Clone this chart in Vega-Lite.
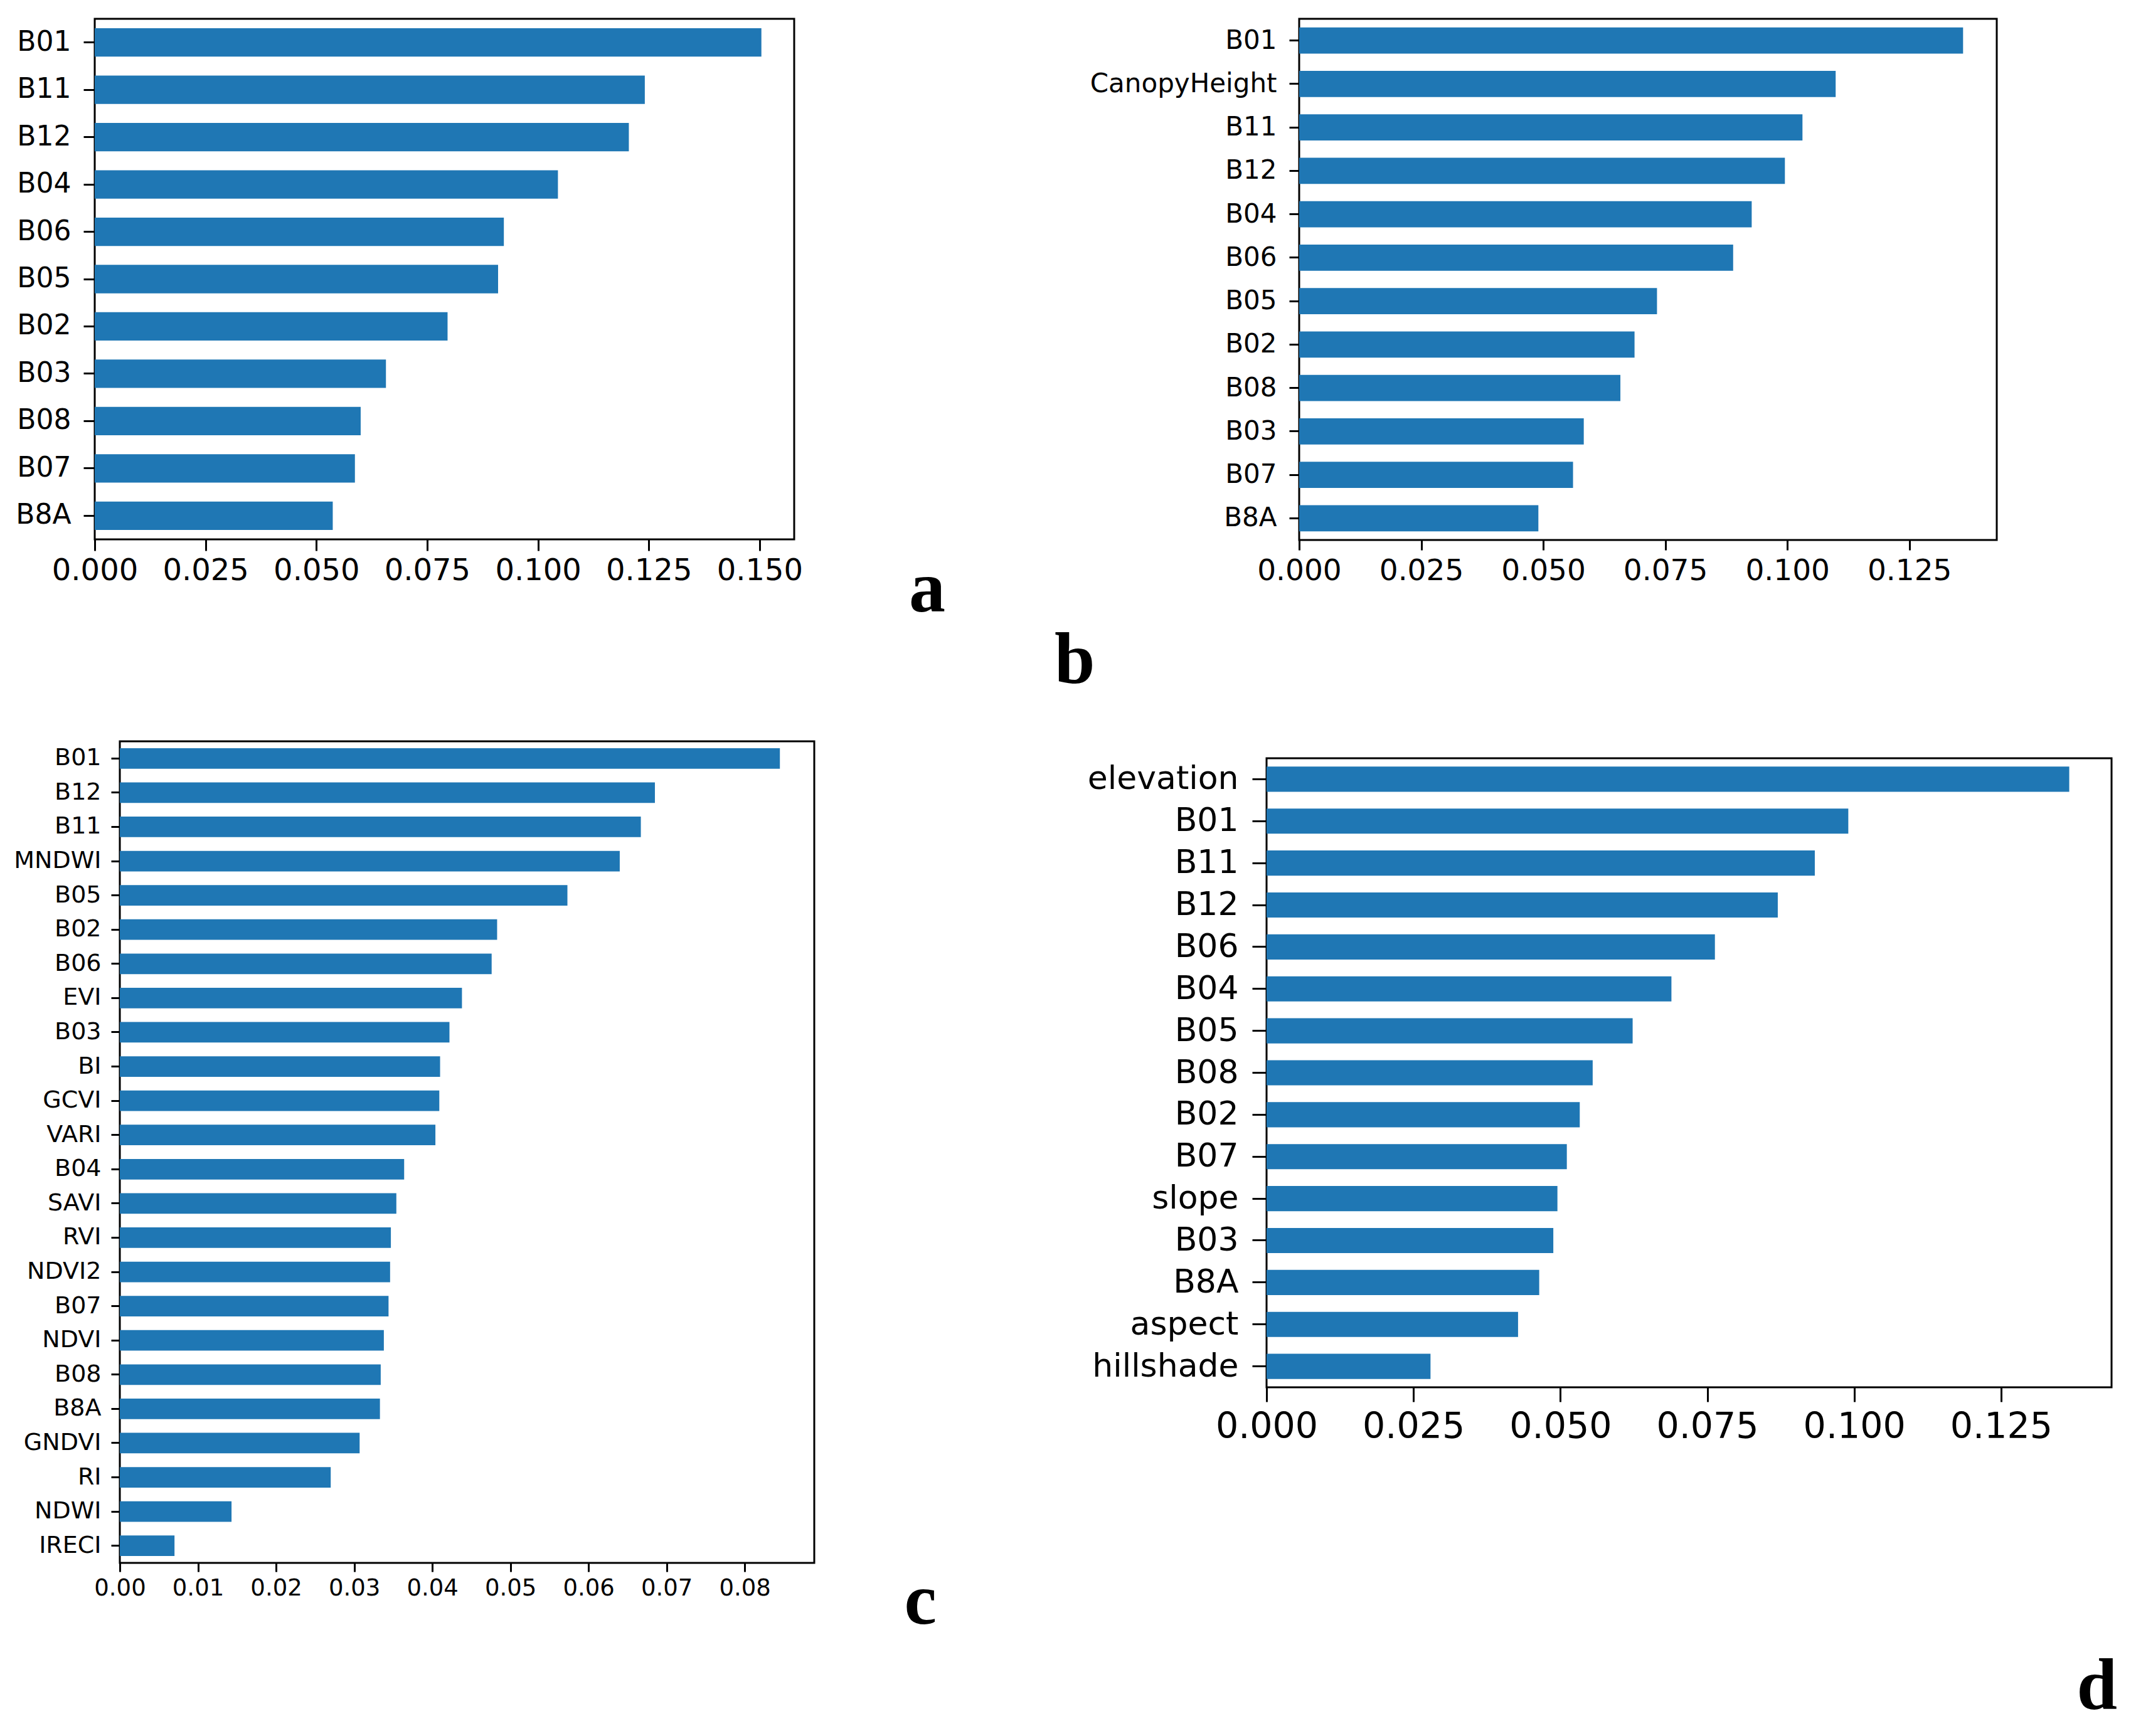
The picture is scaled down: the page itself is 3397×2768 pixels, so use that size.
{
  "$schema": "https://vega.github.io/schema/vega-lite/v6.json",
  "background": "white",
  "padding": {"left": 20, "top": 28, "right": 0, "bottom": 0},
  "config": {
    "view": {"stroke": "black", "strokeWidth": 3},
    "axis": {"labelFont": "DejaVu Sans", "labelColor": "black", "tickColor": "black", "tickWidth": 3, "domain": false, "grid": false, "labelFlush": false, "labelOverlap": false, "labelLimit": 0},
    "bar": {"color": "#1f77b4"},
    "title": {"font": "Liberation Serif", "fontWeight": "bold", "fontSize": 116, "color": "black"}
  },
  "columns": 1,
  "spacing": 66,
  "concat": [
    {
      "hconcat": [
        {
          "width": 1115, "height": 830,
          "data": {"values": [
            {"feature": "B01", "importance": 0.1504},
            {"feature": "B11", "importance": 0.1241},
            {"feature": "B12", "importance": 0.1205},
            {"feature": "B04", "importance": 0.1045},
            {"feature": "B06", "importance": 0.0923},
            {"feature": "B05", "importance": 0.0910},
            {"feature": "B02", "importance": 0.0796},
            {"feature": "B03", "importance": 0.0657},
            {"feature": "B08", "importance": 0.0600},
            {"feature": "B07", "importance": 0.0587},
            {"feature": "B8A", "importance": 0.0537}
          ]},
          "mark": {"type": "bar"},
          "encoding": {
            "y": {"field": "feature", "type": "nominal", "sort": null, "title": null,
                  "scale": {"paddingInner": 0.4, "paddingOuter": 0.2},
                  "axis": {"labelFontSize": 44, "tickSize": 18, "labelPadding": 20}},
            "x": {"field": "importance", "type": "quantitative", "title": null,
                  "scale": {"domain": [0, 0.1578], "nice": false},
                  "axis": {"values": [0, 0.025, 0.05, 0.075, 0.1, 0.125, 0.15], "format": ".3f", "labelFontSize": 48, "tickSize": 18, "labelPadding": 8}}
          },
          "title": {"text": "a", "orient": "bottom", "anchor": "end", "frame": "group", "dx": 241, "dy": -55}
        },
        {
          "width": 1112, "height": 831,
          "data": {"values": [
            {"feature": "B01", "importance": 0.1360},
            {"feature": "CanopyHeight", "importance": 0.1099},
            {"feature": "B11", "importance": 0.1031},
            {"feature": "B12", "importance": 0.0995},
            {"feature": "B04", "importance": 0.0927},
            {"feature": "B06", "importance": 0.0889},
            {"feature": "B05", "importance": 0.0733},
            {"feature": "B02", "importance": 0.0687},
            {"feature": "B08", "importance": 0.0658},
            {"feature": "B03", "importance": 0.0583},
            {"feature": "B07", "importance": 0.0561},
            {"feature": "B8A", "importance": 0.0490}
          ]},
          "mark": {"type": "bar"},
          "encoding": {
            "y": {"field": "feature", "type": "nominal", "sort": null, "title": null,
                  "scale": {"paddingInner": 0.4, "paddingOuter": 0.2},
                  "axis": {"labelFontSize": 42, "tickSize": 16, "labelPadding": 20}},
            "x": {"field": "importance", "type": "quantitative", "title": null,
                  "scale": {"domain": [0, 0.1429], "nice": false},
                  "axis": {"values": [0, 0.025, 0.05, 0.075, 0.1, 0.125], "format": ".3f", "labelFontSize": 47, "tickSize": 16, "labelPadding": 10}}
          },
          "title": {"text": "b", "orient": "bottom", "anchor": "start", "frame": "group", "dx": -390, "dy": 60}
        }
      ],
      "spacing": 805,
      "bounds": "flush"
    },
    {
      "hconcat": [
        {
          "width": 1, "height": 1,
          "data": {"values": []},
          "mark": {"type": "point"},
          "view": {"stroke": null}
        },
        {
          "hconcat": [
            {
              "width": 1107, "height": 1310,
              "data": {"values": [
                {"feature": "B01", "importance": 0.0845},
                {"feature": "B12", "importance": 0.0685},
                {"feature": "B11", "importance": 0.0667},
                {"feature": "MNDWI", "importance": 0.0640},
                {"feature": "B05", "importance": 0.0573},
                {"feature": "B02", "importance": 0.0483},
                {"feature": "B06", "importance": 0.0476},
                {"feature": "EVI", "importance": 0.0438},
                {"feature": "B03", "importance": 0.0422},
                {"feature": "BI", "importance": 0.0410},
                {"feature": "GCVI", "importance": 0.0409},
                {"feature": "VARI", "importance": 0.0404},
                {"feature": "B04", "importance": 0.0364},
                {"feature": "SAVI", "importance": 0.0354},
                {"feature": "RVI", "importance": 0.0347},
                {"feature": "NDVI2", "importance": 0.0346},
                {"feature": "B07", "importance": 0.0344},
                {"feature": "NDVI", "importance": 0.0338},
                {"feature": "B08", "importance": 0.0334},
                {"feature": "B8A", "importance": 0.0333},
                {"feature": "GNDVI", "importance": 0.0307},
                {"feature": "RI", "importance": 0.0270},
                {"feature": "NDWI", "importance": 0.0143},
                {"feature": "IRECI", "importance": 0.0070}
              ]},
              "mark": {"type": "bar"},
              "encoding": {
                "y": {"field": "feature", "type": "nominal", "sort": null, "title": null,
                      "scale": {"paddingInner": 0.4, "paddingOuter": 0.2},
                      "axis": {"labelFontSize": 38, "tickSize": 14, "labelPadding": 16}},
                "x": {"field": "importance", "type": "quantitative", "title": null,
                      "scale": {"domain": [0, 0.0889], "nice": false},
                      "axis": {"values": [0, 0.01, 0.02, 0.03, 0.04, 0.05, 0.06, 0.07, 0.08], "format": ".2f", "labelFontSize": 37, "tickSize": 14, "labelPadding": 8}}
              },
              "title": {"text": "c", "orient": "bottom", "anchor": "end", "frame": "group", "dx": 195, "dy": -57}
            },
            {
              "vconcat": [
                {
                  "width": 1, "height": 1,
                  "data": {"values": []},
                  "mark": {"type": "point"},
                  "view": {"stroke": null}
                },
                {
                  "width": 1347, "height": 1003,
                  "data": {"values": [
                    {"feature": "elevation", "importance": 0.1366},
                    {"feature": "B01", "importance": 0.0990},
                    {"feature": "B11", "importance": 0.0933},
                    {"feature": "B12", "importance": 0.0870},
                    {"feature": "B06", "importance": 0.0763},
                    {"feature": "B04", "importance": 0.0689},
                    {"feature": "B05", "importance": 0.0623},
                    {"feature": "B08", "importance": 0.0555},
                    {"feature": "B02", "importance": 0.0533},
                    {"feature": "B07", "importance": 0.0511},
                    {"feature": "slope", "importance": 0.0495},
                    {"feature": "B03", "importance": 0.0488},
                    {"feature": "B8A", "importance": 0.0464},
                    {"feature": "aspect", "importance": 0.0428},
                    {"feature": "hillshade", "importance": 0.0279}
                  ]},
                  "mark": {"type": "bar"},
                  "encoding": {
                    "y": {"field": "feature", "type": "nominal", "sort": null, "title": null,
                          "scale": {"paddingInner": 0.4, "paddingOuter": 0.2},
                          "axis": {"labelFontSize": 52, "tickSize": 23, "labelPadding": 22}},
                    "x": {"field": "importance", "type": "quantitative", "title": null,
                          "scale": {"domain": [0, 0.1438], "nice": false},
                          "axis": {"values": [0, 0.025, 0.05, 0.075, 0.1, 0.125], "format": ".3f", "labelFontSize": 57, "tickSize": 23, "labelPadding": 12}}
                  },
                  "title": {"text": "d", "orient": "bottom", "anchor": "end", "frame": "group", "dx": 9, "dy": 326}
                }
              ],
              "spacing": 26,
              "bounds": "flush"
            }
          ],
          "spacing": 721,
          "bounds": "flush"
        }
      ],
      "spacing": 39,
      "bounds": "flush"
    }
  ]
}
